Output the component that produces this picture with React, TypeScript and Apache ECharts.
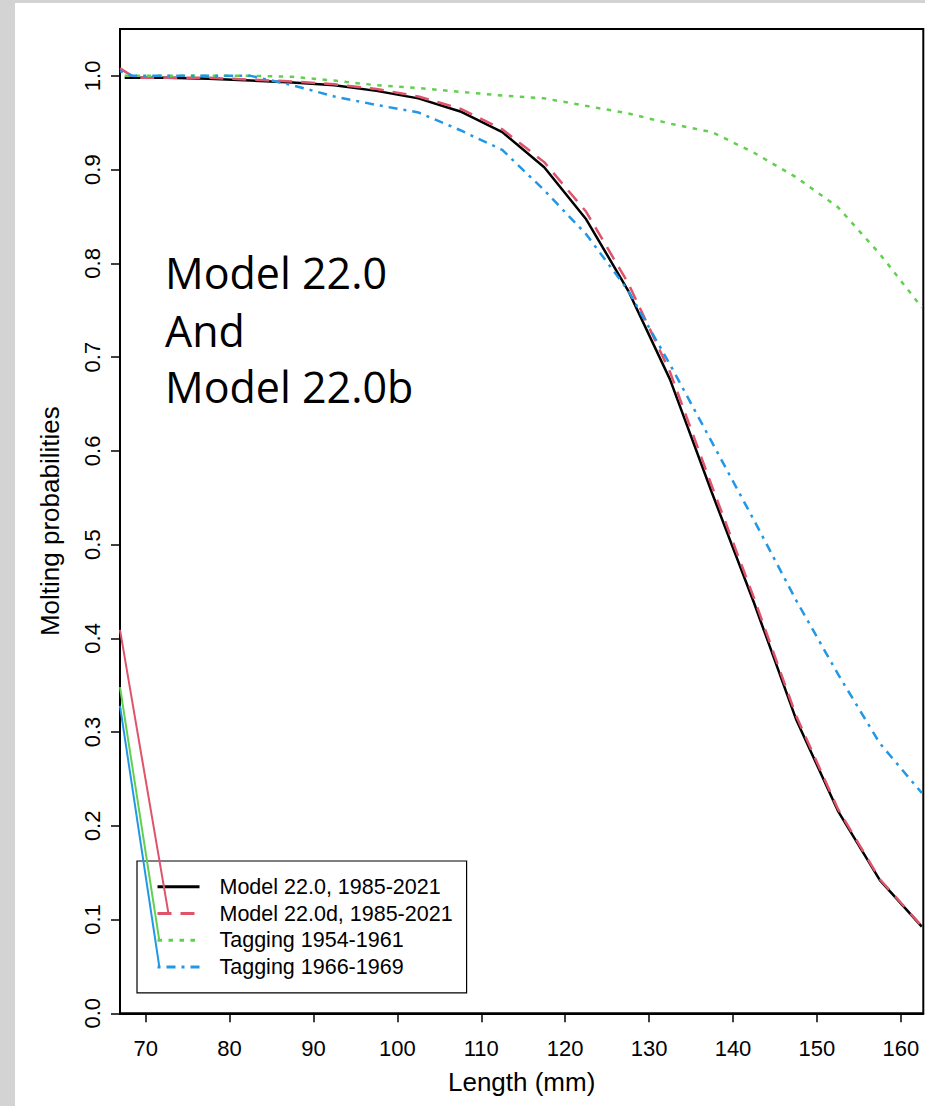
import React, { useEffect, useRef } from "react";
import * as echarts from "echarts";

// Lengths (mm) at which the curves are evaluated
const lengths = [67.5, 72.5, 77.5, 82.5, 87.5, 92.5, 97.5, 102.5, 107.5, 112.5, 117.5, 122.5, 127.5, 132.5, 137.5, 142.5, 147.5, 152.5, 157.5, 162.5];
// Model 22.0, 1985-2021
const model220 = [0.998, 0.998, 0.997, 0.995, 0.993, 0.99, 0.984, 0.976, 0.962, 0.94, 0.9025, 0.847, 0.771, 0.676, 0.555, 0.438, 0.314, 0.216, 0.142, 0.0925];
// Model 22.0d, 1985-2021 (values from 72.5 on, plus its lead-in from the left edge)
const model220dLeadX = [66.94, 68.7];
const model220dLeadY = [1.008, 0.998];
const model220d = [0.998, 0.998, 0.996, 0.994, 0.991, 0.986, 0.978, 0.965, 0.943, 0.908, 0.855, 0.779, 0.684, 0.562, 0.443, 0.318, 0.218, 0.143, 0.093];
// Tagging 1954-1961
const tagging5461 = [1.0, 1.0, 1.0, 1.0, 0.999, 0.995, 0.99, 0.987, 0.983, 0.979, 0.976, 0.968, 0.96, 0.949, 0.94, 0.918, 0.892, 0.86, 0.81, 0.753];
// Tagging 1966-1969 (values from 72.5 on, plus its lead-in from the left edge)
const tagging6669LeadX = [66.94, 68.5];
const tagging6669LeadY = [1.005, 1.0];
const tagging6669 = [1.0, 1.0, 1.0, 0.99, 0.978, 0.969, 0.961, 0.942, 0.921, 0.878, 0.831, 0.771, 0.692, 0.609, 0.526, 0.441, 0.362, 0.288, 0.235];
// Stray segments running from the left edge to the legend keys
const strayRedX = [66.94, 72.69];
const strayRedY = [0.409, 0.108];
const strayGreenX = [66.94, 71.62];
const strayGreenY = [0.348, 0.078];
const strayBlueX = [66.94, 71.62];
const strayBlueY = [0.328, 0.05];

const seriesNames = ["Model 22.0, 1985-2021", "Model 22.0d, 1985-2021", "Tagging 1954-1961", "Tagging 1966-1969"];
const seriesColors = ["#000000", "#DF536B", "#61D04F", "#2297E6"];

const xTicks = [70, 80, 90, 100, 110, 120, 130, 140, 150, 160];
const yTicks = [0, 0.1, 0.2, 0.3, 0.4, 0.5, 0.6, 0.7, 0.8, 0.9, 1.0];
const yTickLabels = ["0.0", "0.1", "0.2", "0.3", "0.4", "0.5", "0.6", "0.7", "0.8", "0.9", "1.0"];
const xRange = [66.94, 162.68];
const yRange = [0, 1.05];

const annotationLines = ["Model 22.0", "And", "Model 22.0b"];

const zip = (xs: number[], ys: number[]) => xs.map((x, i) => [x, ys[i]]);

const FONT = "'Liberation Sans', Arial, sans-serif";

export default function App() {
  const ref = useRef<HTMLDivElement>(null);
  useEffect(() => {
    if (!ref.current) return;
    const chart = echarts.init(ref.current, undefined, { renderer: "svg" });
    const lw = 2.5;
    const mainSeries = [
      { name: seriesNames[0], data: zip(lengths, model220), dash: "solid" as any },
      { name: seriesNames[1], data: [...zip(model220dLeadX, model220dLeadY), ...zip(lengths.slice(1), model220d)], dash: [14, 9] },
      { name: seriesNames[2], data: zip(lengths, tagging5461), dash: [4.5, 6.5] },
      { name: seriesNames[3], data: [...zip(tagging6669LeadX, tagging6669LeadY), ...zip(lengths.slice(1), tagging6669)], dash: [3, 6, 9, 6] },
    ].map((s, i) => ({
      type: "line",
      name: s.name,
      data: s.data,
      symbol: "none",
      showSymbol: false,
      color: seriesColors[i],
      lineStyle: { color: seriesColors[i], width: lw, type: s.dash, cap: "butt" },
      z: 3 + i,
    }));
    const strays = [
      [strayRedX, strayRedY, seriesColors[1]],
      [strayGreenX, strayGreenY, seriesColors[2]],
      [strayBlueX, strayBlueY, seriesColors[3]],
    ].map(([xs, ys, c]: any) => ({
      type: "line",
      data: zip(xs, ys),
      symbol: "none",
      showSymbol: false,
      silent: true,
      color: c,
      lineStyle: { color: c, width: 2, type: "solid" },
      z: 8,
    }));

    chart.setOption({
      animation: false,
      backgroundColor: "transparent",
      grid: {
        left: 105,
        top: 26,
        right: 1.7,
        bottom: 92.7,
        show: true,
        borderColor: "#000",
        borderWidth: 2,
        backgroundColor: "#fff",
      },
      xAxis: {
        type: "value",
        min: xRange[0],
        max: xRange[1],
        name: "Length (mm)",
        nameLocation: "middle",
        nameGap: 56,
        nameTextStyle: { fontSize: 26, fontFamily: FONT, color: "#000" },
        axisLine: { show: true, lineStyle: { color: "#000", width: 2 } },
        axisTick: { show: true, length: 9, lineStyle: { color: "#000", width: 1.5 }, customValues: xTicks },
        axisLabel: { fontSize: 22, fontFamily: FONT, color: "#000", margin: 24, customValues: xTicks },
        splitLine: { show: false },
      },
      yAxis: {
        type: "value",
        min: yRange[0],
        max: yRange[1],
        name: "Molting probabilities",
        nameLocation: "middle",
        nameGap: 57,
        nameTextStyle: { fontSize: 26, fontFamily: FONT, color: "#000" },
        axisLine: { show: true, lineStyle: { color: "#000", width: 2 } },
        axisTick: { show: true, length: 9, lineStyle: { color: "#000", width: 1.5 }, customValues: yTicks },
        axisLabel: {
          fontSize: 22,
          fontFamily: FONT,
          color: "#000",
          margin: 17,
          rotate: 90,
          customValues: yTicks,
          formatter: (v: number) => {
            const i = yTicks.findIndex((t) => Math.abs(t - v) < 1e-9);
            return i >= 0 ? yTickLabels[i] : "";
          },
        },
        splitLine: { show: false },
      },
      legend: {
        data: seriesNames,
        orient: "vertical",
        left: 122,
        top: 858,
        padding: [12.5, 14, 12.5, 19],
        itemWidth: 42,
        itemHeight: 14,
        itemGap: 0,
        borderColor: "#000",
        borderWidth: 1.2,
        borderRadius: 0,
        backgroundColor: "transparent",
        selectedMode: false,
        itemStyle: { opacity: 0, borderWidth: 0 },
        lineStyle: { width: 3 },
        textStyle: { fontSize: 21.5, fontFamily: FONT, color: "#000", lineHeight: 26.7, padding: [0, 0, 0, 15] },
      },
      graphic: annotationLines.map((t, i) => ({
        type: "text",
        x: 150,
        y: [269.5, 327, 383][i],
        z: 20,
        style: {
          text: t,
          font: "43px 'Open Sans', sans-serif",
          fill: "#000",
          verticalAlign: "middle",
          align: "left",
        },
      })),
      series: [...mainSeries, ...strays],
    });
    return () => chart.dispose();
  }, []);

  return (
    <div style={{ position: "absolute", left: 0, top: 0, width: 925, height: 1106, background: "#d3d3d3", overflow: "hidden" }}>
      <div ref={ref} style={{ position: "absolute", left: 15, top: 3, width: 910, height: 1103, background: "#fff" }} />
    </div>
  );
}
